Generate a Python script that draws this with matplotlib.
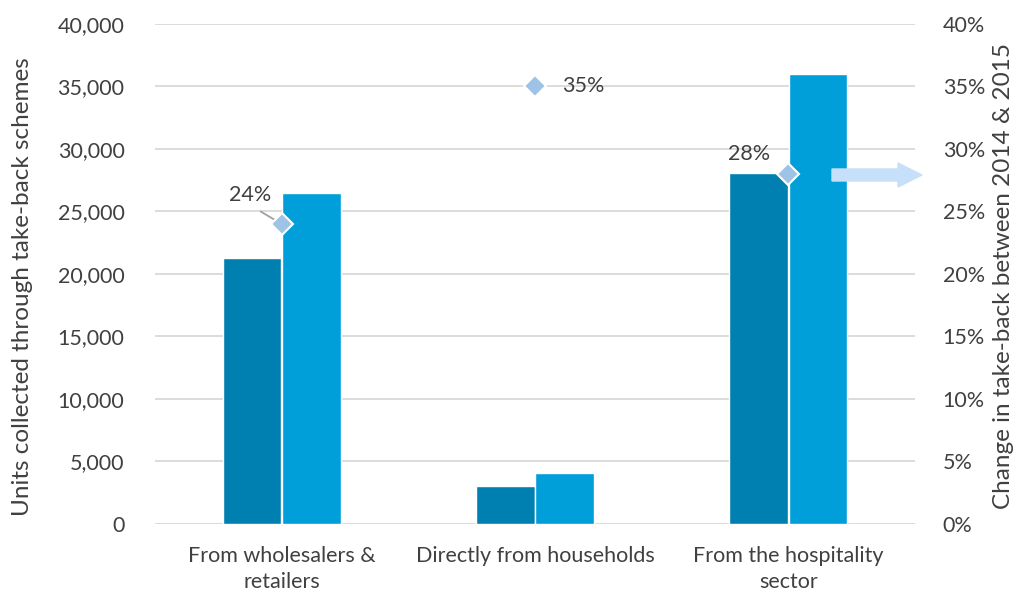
import numpy as np
import matplotlib.pyplot as plt
from matplotlib.patches import FancyArrow
from matplotlib.ticker import FuncFormatter, PercentFormatter

# chart data
categories = ['From wholesalers &\nretailers', 'Directly from households', 'From the hospitality\nsector']
units_2014 = [21300, 3000, 28100]
units_2015 = [26500, 4100, 36000]
pct_change = [0.24, 0.35, 0.28]
pct_labels = ['24%', '35%', '28%']

dark_blue = '#0080b0'
light_blue = '#009fda'
marker_col = '#9dc3e6'
text_col = '#404040'
grid_col = '#d9d9d9'

plt.rcParams['font.family'] = ['Lato', 'DejaVu Sans']
fs = 15.5

fig = plt.figure(figsize=(10.16, 5.92), dpi=100)
ax = fig.add_axes([0.1526, 0.1149, 0.748, 0.8446])
ax2 = ax.twinx()

x = np.arange(len(categories))
w = 0.232
ax.bar(x - 0.117, units_2014, w, color=dark_blue, edgecolor='white', linewidth=1, zorder=3)
ax.bar(x + 0.117, units_2015, w, color=light_blue, edgecolor='white', linewidth=1, zorder=3)

ax.set_ylim(0, 40000)
ax.set_xlim(-0.5, 2.5)
ax.set_yticks(np.arange(0, 40001, 5000))
ax.yaxis.set_major_formatter(FuncFormatter(lambda v, p: f'{int(v):,}'))
ax.grid(axis='y', color=grid_col, linewidth=1.3, zorder=0)
ax.set_axisbelow(True)
ax.set_xticks(x)
ax.set_xticklabels(categories, fontsize=fs, color=text_col, linespacing=1.35)
ax.set_ylabel('Units collected through take-back schemes', fontsize=17.5, color=text_col,
              va='center', ha='center')
ax.yaxis.set_label_coords(-0.175, 0.475)

ax2.set_ylim(0, 0.4)
ax2.set_yticks(np.arange(0, 0.41, 0.05))
ax2.yaxis.set_major_formatter(PercentFormatter(1.0, decimals=0))
ax2.set_ylabel('Change in take-back between 2014 & 2015', fontsize=17.5, color=text_col,
               va='center', ha='center')
ax2.yaxis.set_label_coords(1.116, 0.495)
ax2.plot(x, pct_change, linestyle='none', marker='D', markersize=11,
         markerfacecolor=marker_col, markeredgecolor='white', markeredgewidth=1.5, zorder=5)

for a in (ax, ax2):
    for s in a.spines.values():
        s.set_visible(False)
    a.tick_params(length=0, labelsize=fs, labelcolor=text_col)
ax.tick_params(axis='y', pad=22)
ax2.tick_params(axis='y', pad=20)
ax.tick_params(axis='x', pad=16)

# data labels
ax2.annotate(pct_labels[0], xy=(x[0], pct_change[0]), xytext=(x[0] - 0.125, 0.263),
             fontsize=fs, color=text_col, ha='center', va='center',
             arrowprops=dict(arrowstyle='-', color='#a0a0a0', lw=1.3,
                             relpos=(0.5, 0.0), shrinkA=5, shrinkB=5))
ax2.text(x[1] + 0.19, pct_change[1], pct_labels[1], fontsize=fs, color=text_col,
         ha='center', va='center')
ax2.text(x[2] - 0.155, 0.296, pct_labels[2], fontsize=fs, color=text_col,
         ha='center', va='center')

# arrow pointing at right axis
fig.patches.append(FancyArrow(
    832 / 1016, 1 - 175 / 592, 66 / 1016, 0, width=12 / 592, head_width=24 / 592,
    head_length=24 / 1016, length_includes_head=False, color='#c5e0f8',
    transform=fig.transFigure, figure=fig))

fig.savefig('out.png', dpi=100)
